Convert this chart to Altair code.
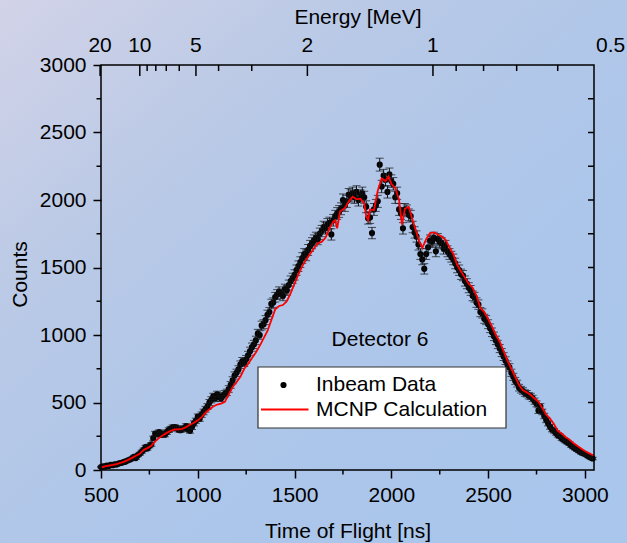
import altair as alt
import pandas as pd

# ---------------- layout ----------------
W, H = 493, 405
PAD_L, PAD_T = 101, 65
PAD_R = 627 - PAD_L - W
PAD_B = 543 - PAD_T - H
FONT = "Liberation Sans"
FS = 21

# ---------------- data ----------------
# Inbeam data, 10 ns bins from 500 ns
tof_data = list(range(500, 3050, 10))
counts_data = [
    22, 28, 25, 33, 30, 38, 36, 42, 40, 47,
    52, 55, 60, 64, 72, 78, 85, 98, 88, 108,
    120, 135, 150, 170, 160, 178, 190, 235, 270, 265,
    280, 260, 270, 262, 280, 295, 305, 315, 318, 312,
    300, 295, 305, 310, 325, 300, 290, 318, 345, 365,
    395, 380, 410, 430, 450, 470, 500, 520, 545, 530,
    560, 545, 530, 550, 565, 575, 600, 630, 665, 700,
    720, 745, 780, 805, 795, 820, 850, 880, 910, 930,
    960, 1010, 1000, 1070, 1080, 1110, 1150, 1170, 1230, 1240,
    1280, 1300, 1320, 1305, 1290, 1340, 1330, 1370, 1400, 1420,
    1445, 1480, 1510, 1540, 1570, 1600, 1590, 1630, 1660, 1680,
    1700, 1720, 1710, 1750, 1770, 1800, 1790, 1820, 1830, 1745,
    1850, 1880, 1900, 1915, 1935, 2000, 1960, 1990, 2040, 2030,
    2050, 2020, 2060, 2000, 2030, 2050, 2020, 1950, 1865, 1870,
    1755, 1930, 1960, 1990, 2262, 2100, 2180, 2150, 2060, 2190,
    2140, 2120, 2020, 2050, 1930, 1900, 1790, 1930, 1920, 1890,
    1880, 1800, 1760, 1730, 1670, 1600, 1560, 1490, 1600, 1650,
    1700, 1690, 1720, 1620, 1710, 1690, 1680, 1640, 1660, 1620,
    1600, 1580, 1560, 1530, 1500, 1480, 1450, 1440, 1400, 1380,
    1350, 1330, 1290, 1280, 1240, 1225, 1170, 1160, 1120, 1110,
    1080, 1050, 1020, 990, 960, 930, 900, 870, 840, 810,
    780, 760, 720, 690, 660, 640, 610, 595, 585, 570,
    565, 550, 545, 530, 510, 490, 440, 470, 430, 400,
    370, 345, 320, 300, 290, 275, 260, 250, 235, 225,
    215, 205, 195, 180, 170, 160, 150, 140, 130, 125,
    118, 110, 100, 92, 85,
]

# MCNP calculation
mcnp_tof = [
    500, 520, 540, 560, 580, 600, 620, 640, 660, 680, 700, 720, 740, 760, 780,
    800, 820, 840, 860, 880, 900, 920, 940, 960, 980, 1000, 1020, 1040, 1060,
    1080, 1100, 1120, 1140, 1160, 1180, 1200, 1220, 1240, 1260, 1280, 1300,
    1320, 1340, 1360, 1380, 1400, 1420, 1440, 1460, 1480, 1500, 1520, 1540,
    1560, 1580, 1600, 1620, 1640, 1660, 1680, 1700, 1710, 1720, 1735, 1760,
    1780, 1800, 1820, 1840, 1860, 1870, 1880, 1890, 1910, 1930, 1950, 1970,
    1985, 2000, 2020, 2040, 2055, 2070, 2090, 2110, 2130, 2145, 2160, 2180,
    2200, 2220, 2240, 2260, 2280, 2300, 2320, 2340, 2360, 2380, 2400, 2420,
    2440, 2460, 2480, 2500, 2520, 2540, 2560, 2580, 2600, 2620, 2640, 2660,
    2680, 2700, 2720, 2740, 2760, 2780, 2800, 2820, 2840, 2860, 2880, 2900,
    2920, 2940, 2960, 2980, 3000, 3020, 3047,
]
mcnp_counts = [
    18, 26, 33, 38, 44, 52, 62, 75, 90, 105, 120, 148, 162, 180, 212,
    238, 258, 275, 290, 300, 302, 305, 318, 335, 350, 368, 392, 425, 448,
    470, 485, 492, 505, 560, 615, 650, 690, 750, 785, 830, 870,
    920, 975, 1030, 1110, 1190, 1215, 1222, 1250, 1310, 1380, 1450, 1510,
    1560, 1600, 1640, 1680, 1690, 1720, 1790, 1840, 1850, 1790, 1915, 1940,
    1990, 2025, 2005, 2010, 1975, 1880, 1850, 1930, 1925, 2070, 2160, 2140,
    2175, 2120, 2090, 2000, 1817, 1935, 1950, 1850, 1760, 1690, 1645, 1710,
    1755, 1760, 1745, 1730, 1705, 1650, 1600, 1520, 1470, 1425, 1380, 1350,
    1290, 1200, 1170, 1120, 1062, 1000, 950, 880, 810, 750, 690, 630,
    590, 575, 555, 530, 505, 460, 410, 380, 340, 290, 270, 245,
    225, 200, 180, 160, 140, 125, 105,
]

# axis ticks
x_major = [500, 1000, 1500, 2000, 2500, 3000]
x_minor = [750, 1250, 1750, 2250, 2750]
y_major = [0, 500, 1000, 1500, 2000, 2500, 3000]
y_minor = [250, 750, 1250, 1750, 2250, 2750]
y_right = [250, 500, 750, 1000, 1250, 1500, 1750, 2000, 2250, 2500, 2750]

# top energy axis (E in MeV, t = TOF_CONST / sqrt(E))
TOF_CONST = 2215
energy_major = [20, 10, 5, 2, 1, 0.5]
energy_major_labels = ["20", "10", "5", "2", "1", "0.5"]
energy_minor = [9, 8, 7, 6, 4, 3, 0.9, 0.8, 0.7, 0.6]

X_DOMAIN = [500, 3047]
xs = alt.Scale(domain=X_DOMAIN, nice=False, zero=False)
ys = alt.Scale(domain=[0, 3000], nice=False, zero=False)

df = pd.DataFrame({"tof": tof_data, "counts": counts_data})
df_mc = pd.DataFrame({"tof": mcnp_tof, "counts": mcnp_counts})
one = pd.DataFrame({"a": [0]})

# ---------------- background ----------------
bg = alt.Chart(one).mark_rect(
    color=alt.LinearGradient(
        gradient="linear",
        x1=0, y1=0, x2=1, y2=1,
        stops=[
            alt.GradientStop(color="#d2d3e8", offset=0),
            alt.GradientStop(color="#b9c9e6", offset=0.3),
            alt.GradientStop(color="#adc6ea", offset=0.6),
            alt.GradientStop(color="#a9c6ec", offset=1),
        ],
    )
).encode(
    x=alt.value(-PAD_L), x2=alt.value(W + PAD_R),
    y=alt.value(-PAD_T), y2=alt.value(H + PAD_B),
)

# ---------------- data layers ----------------
base = alt.Chart(df).transform_calculate(
    lo="datum.counts - sqrt(datum.counts)",
    hi="datum.counts + sqrt(datum.counts)",
)
err = base.mark_rule(color="#111111", strokeWidth=1).encode(
    x=alt.X("tof:Q", scale=xs),
    y=alt.Y("lo:Q", scale=ys),
    y2="hi:Q",
)
cap_lo = base.mark_tick(color="#111111", orient="horizontal", size=8, thickness=1).encode(
    x=alt.X("tof:Q", scale=xs),
    y=alt.Y("lo:Q", scale=ys),
)
cap_hi = base.mark_tick(color="#111111", orient="horizontal", size=8, thickness=1).encode(
    x=alt.X("tof:Q", scale=xs),
    y=alt.Y("hi:Q", scale=ys),
)

axis_common = dict(
    grid=False, domain=False, tickColor="black", tickWidth=1.5, tickSize=8,
    labelFont=FONT, labelFontSize=FS, labelColor="black", format="d",
    titleFont=FONT, titleFontSize=FS, titleColor="black", titleFontWeight="normal",
    zindex=1, labelOverlap=False, labelFlush=False, labelBound=False,
)
points = alt.Chart(df).mark_circle(color="black", size=38, opacity=1).encode(
    x=alt.X("tof:Q", scale=xs, axis=alt.Axis(
        values=x_major, title="Time of Flight [ns]", labelPadding=6,
        titleY=61, titleBaseline="middle", **axis_common)),
    y=alt.Y("counts:Q", scale=ys, axis=alt.Axis(
        values=y_major, title="Counts", labelPadding=7,
        titleX=-81, titleY=209, titleBaseline="middle", **axis_common)),
)

line = alt.Chart(df_mc).mark_line(color="#ff0000", strokeWidth=1.8).encode(
    x=alt.X("tof:Q", scale=xs),
    y=alt.Y("counts:Q", scale=ys),
)

# ---------------- minor / frame ticks ----------------
tick_style = dict(color="black", strokeWidth=1.5)
bx_minor = alt.Chart(pd.DataFrame({"v": x_minor})).mark_rule(**tick_style).encode(
    x=alt.X("v:Q", scale=xs), y=alt.value(H), y2=alt.value(H + 4.5))
ly_minor = alt.Chart(pd.DataFrame({"v": y_minor})).mark_rule(**tick_style).encode(
    y=alt.Y("v:Q", scale=ys), x=alt.value(-4.5), x2=alt.value(0))
ry_ticks = alt.Chart(pd.DataFrame({"v": y_right})).mark_rule(**tick_style).encode(
    y=alt.Y("v:Q", scale=ys), x=alt.value(W - 6), x2=alt.value(W))

top_major = alt.Chart(pd.DataFrame({"E": energy_major, "lab": energy_major_labels})).transform_calculate(
    t=f"{TOF_CONST} / sqrt(datum.E)")
top_major_ticks = top_major.transform_filter(
    f"datum.t >= {X_DOMAIN[0] - 5} && datum.t <= {X_DOMAIN[1]}"
).mark_rule(**tick_style).encode(
    x=alt.X("t:Q", scale=xs), y=alt.value(0), y2=alt.value(11))
top_labels = top_major.mark_text(font=FONT, fontSize=FS, color="black",
                                 align="center", baseline="middle").encode(
    x=alt.X("t:Q", scale=xs), y=alt.value(-19), text="lab:N")
top_minor_ticks = alt.Chart(pd.DataFrame({"E": energy_minor})).transform_calculate(
    t=f"{TOF_CONST} / sqrt(datum.E)"
).mark_rule(**tick_style).encode(
    x=alt.X("t:Q", scale=xs), y=alt.value(0), y2=alt.value(6))

energy_title = alt.Chart(one).mark_text(
    text="Energy [MeV]", font=FONT, fontSize=FS, color="black",
    align="center", baseline="middle").encode(x=alt.value(257), y=alt.value(-47))

frame = alt.Chart(one).mark_rect(fillOpacity=0, stroke="black", strokeWidth=1.5).encode(
    x=alt.value(0), x2=alt.value(W), y=alt.value(0), y2=alt.value(H))

# ---------------- annotation & legend ----------------
det = alt.Chart(one).mark_text(
    text="Detector 6", font=FONT, fontSize=FS, color="black",
    align="center", baseline="middle").encode(x=alt.value(279), y=alt.value(275))

leg_box = alt.Chart(one).mark_rect(fill="white", stroke="#333333", strokeWidth=1.2).encode(
    x=alt.value(157), x2=alt.value(405), y=alt.value(302), y2=alt.value(363))
leg_dot = alt.Chart(one).mark_circle(color="black", size=38, opacity=1).encode(
    x=alt.value(182.5), y=alt.value(320))
leg_line = alt.Chart(one).mark_rule(color="#ff0000", strokeWidth=1.8).encode(
    x=alt.value(160), x2=alt.value(207.5), y=alt.value(344.5))
leg_t1 = alt.Chart(one).mark_text(
    text="Inbeam Data", font=FONT, fontSize=FS, color="black",
    align="left", baseline="middle").encode(x=alt.value(215), y=alt.value(320))
leg_t2 = alt.Chart(one).mark_text(
    text="MCNP Calculation", font=FONT, fontSize=FS, color="black",
    align="left", baseline="middle").encode(x=alt.value(215), y=alt.value(344.5))

chart = alt.layer(
    bg, points, err, cap_lo, cap_hi, line,
    bx_minor, ly_minor, ry_ticks, top_major_ticks, top_minor_ticks, top_labels,
    energy_title, frame, det, leg_box, leg_dot, leg_line, leg_t1, leg_t2,
).properties(
    width=W, height=H,
    padding={"left": PAD_L, "top": PAD_T, "right": PAD_R, "bottom": PAD_B},
    autosize=alt.AutoSizeParams(type="none"),
    background="#adc6ea",
).configure_view(strokeWidth=0)

chart.save("out.html", embed_options={"renderer": "svg", "actions": False})
